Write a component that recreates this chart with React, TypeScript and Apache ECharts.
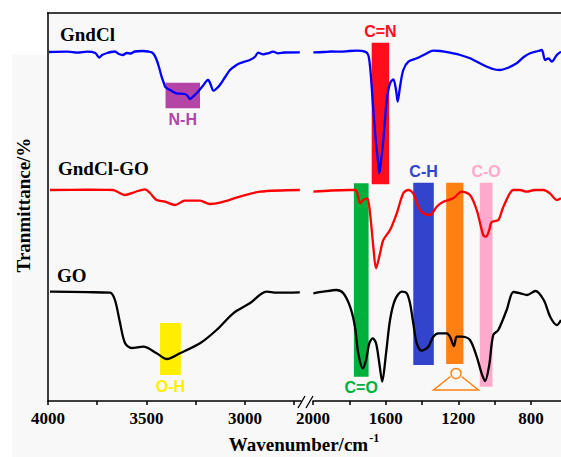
import React, { useEffect, useRef } from "react";
import * as echarts from "echarts";

// FTIR spectra: [wavenumber (cm-1), offset transmittance (a.u.)]
const gndclHigh: [number, number][] = [
  [3995, 349], [3900, 349.3], [3850, 348.3], [3800, 349.3], [3760, 348], [3740, 343.5], [3725, 346],
  [3700, 348], [3680, 349], [3660, 349.5], [3640, 347], [3620, 346], [3600, 348], [3580, 347.5],
  [3560, 349.5], [3520, 350], [3490, 349.5], [3474, 348.7], [3460, 346], [3448, 341], [3435, 333],
  [3423, 324.3], [3410, 317], [3403, 313.7], [3380, 311], [3347, 307.7], [3305, 307], [3290, 305],
  [3279, 302], [3260, 305], [3245, 307.7], [3228, 311.7], [3210, 316], [3195, 320], [3186, 321],
  [3175, 317], [3160, 310.3], [3152, 311], [3127, 316], [3100, 324], [3076, 331], [3050, 335],
  [3026, 337.7], [2975, 341], [2950, 344], [2932, 348.3], [2907, 346.7], [2882, 347.7], [2857, 349.3],
  [2831, 347.7], [2800, 348.5], [2721, 348.7],
];
const gndclLow: [number, number][] = [
  [1998, 348.7], [1943, 349], [1900, 349.5], [1851, 349.3], [1800, 350], [1759, 350.3], [1714, 349.3],
  [1696, 346], [1686, 334.3], [1677, 314.3], [1668, 291], [1653, 257.7], [1640, 236], [1635, 227.7],
  [1628, 236], [1613, 261], [1594, 301], [1576, 317.7], [1558, 321.7], [1543, 311], [1534, 299.3],
  [1521, 314.3], [1503, 331], [1475, 339.3], [1429, 342.7], [1380, 347], [1338, 350.3], [1300, 350],
  [1246, 348.3], [1190, 346], [1136, 342.7], [1063, 336], [1010, 332], [971, 331], [930, 333],
  [879, 337.7], [840, 344], [805, 347.7], [760, 350], [741, 351], [722, 341], [704, 342.7],
  [686, 339.3], [658, 346], [635, 349.3],
];
const gndclGoHigh: [number, number][] = [
  [3990, 211], [3800, 211.3], [3670, 211], [3645, 209], [3609, 206], [3558, 209], [3508, 211.7],
  [3482, 208], [3448, 201], [3406, 199.3], [3355, 196], [3305, 200.3], [3228, 200.3], [3178, 197],
  [3127, 198.3], [3026, 204.3], [2924, 209.3], [2721, 211],
];
const gndclGoLow: [number, number][] = [
  [1998, 209.3], [1900, 210.5], [1800, 211], [1765, 211], [1750, 203], [1741, 197.7], [1723, 201],
  [1701, 202.7], [1686, 187.7], [1668, 154.3], [1653, 132.7], [1631, 147.7], [1613, 161], [1576, 171],
  [1539, 187.7], [1503, 207.7], [1475, 211], [1448, 207.7], [1420, 194.3], [1393, 187.7], [1356, 186],
  [1319, 194.3], [1283, 199.3], [1228, 202.7], [1181, 209.3], [1136, 206], [1099, 191], [1063, 166],
  [1048, 164.3], [1030, 171], [1017, 179], [980, 181], [952, 194.3], [897, 211], [860, 211],
  [824, 209.3], [780, 211], [732, 211], [696, 207.7], [658, 201], [635, 202.7],
];
const goHigh: [number, number][] = [
  [3990, 109.3], [3800, 108.8], [3685, 108.3], [3660, 101], [3634, 78], [3609, 58], [3575, 53],
  [3516, 54.3], [3448, 47.7], [3397, 42], [3330, 47.7], [3228, 57.7], [3144, 71], [3059, 87.7],
  [2975, 97.7], [2890, 109.3], [2839, 108.3], [2721, 108.7],
];
const goLow: [number, number][] = [
  [1998, 107.7], [1943, 109.3], [1870, 111], [1833, 107.7], [1796, 94.3], [1769, 74.3], [1751, 47.7],
  [1726, 32.7], [1708, 41], [1690, 57.7], [1671, 62.7], [1653, 57.7], [1635, 37.7], [1619, 19.3],
  [1598, 47.7], [1576, 81], [1549, 101], [1512, 109.3], [1484, 107.7], [1466, 97.7], [1448, 77.7],
  [1429, 57.7], [1402, 50.3], [1365, 54.3], [1338, 64.3], [1310, 67.7], [1264, 67.7], [1246, 64.3],
  [1224, 55], [1209, 64.3], [1181, 64.3], [1136, 61], [1099, 44.3], [1072, 27.7], [1053, 20],
  [1030, 36], [1008, 66], [980, 71], [934, 91], [897, 109], [859, 107.7], [822, 106], [776, 110],
  [730, 101], [694, 84], [658, 76], [635, 81],
];

// Band annotations: [label, wnStart, wnEnd, yTop, yBottom, color, labelPosition]
type Band = [string, number, number, number, number, string, "top" | "bottom"];
const bandsHigh: Band[] = [
  ["N-H", 3403, 3228, 318.3, 292.7, "#b444a6", "bottom"],
  ["O-H", 3431, 3325, 78, 26, "#ffee00", "bottom"],
];
const bandsLow: Band[] = [
  ["C=N", 1677, 1581, 358.3, 216.7, "#ff0d1d", "top"],
  ["C=O", 1775, 1694, 217.7, 24.3, "#00b03c", "bottom"],
  ["C-H", 1448, 1335, 218.3, 36, "#3344cc", "top"],
  ["", 1267, 1172, 218.3, 37, "#ff8012", "top"],
  ["C-O", 1082, 1012, 218.3, 14.3, "#ffaacc", "top"],
];

const highTicks = [4000, 3750, 3500, 3250, 3000, 2750];
const highLabels = [4000, 3500, 3000];
const lowTicks = [2000, 1800, 1600, 1400, 1200, 1000, 800];
const lowLabels = [2000, 1600, 1200, 800];

const SERIF = "'Liberation Serif', 'Times New Roman', serif";
const SANS = "'Liberation Sans', Arial, sans-serif";

function bandData(bands: Band[]) {
  return bands.map(([label, x1, x2, y1, y2, color, pos]) => [
    {
      xAxis: x1,
      yAxis: y1,
      itemStyle: { color, opacity: 1 },
      label: {
        show: label !== "",
        formatter: label,
        position: pos,
        distance: 3,
        color,
        fontFamily: SANS,
        fontWeight: "bold",
        fontSize: 16,
      },
    },
    { xAxis: x2, yAxis: y2 },
  ]);
}

function xAxisCfg(grid: number, min: number, max: number, ticks: number[], labels: number[]) {
  return {
    gridIndex: grid,
    type: "value",
    inverse: true,
    min,
    max,
    axisLine: { show: true, onZero: false, lineStyle: { color: "#000", width: 1.5 } },
    axisTick: { show: true, customValues: ticks, length: 4, lineStyle: { color: "#000", width: 1.5 } },
    axisLabel: {
      customValues: labels,
      formatter: (v: number) => String(v),
      fontFamily: SERIF,
      fontWeight: "bold",
      fontSize: 17,
      color: "#000",
      margin: 9,
    },
    splitLine: { show: false },
  };
}

function yAxisCfg(grid: number, showLine: boolean) {
  return {
    gridIndex: grid,
    type: "value",
    min: 0,
    max: 388,
    axisLine: { show: showLine, lineStyle: { color: "#000", width: 1.5 } },
    axisTick: { show: false },
    axisLabel: { show: false },
    splitLine: { show: false },
  };
}

function lineSeries(data: [number, number][], grid: number, color: string) {
  return {
    type: "line",
    xAxisIndex: grid,
    yAxisIndex: grid,
    data,
    showSymbol: false,
    smooth: 0.3,
    lineStyle: { color, width: 2.3 },
    z: 3,
  };
}

export default function App() {
  const ref = useRef<HTMLDivElement>(null);
  useEffect(() => {
    if (!ref.current) return;
    const chart = echarts.init(ref.current, undefined, { renderer: "svg" });
    const orange = "#ff8012";
    chart.setOption({
      animation: false,
      backgroundColor: "#ffffff",
      grid: [
        { left: 48, top: 13, width: 253, height: 388 },
        { left: 313, top: 13, width: 248, height: 388 },
      ],
      xAxis: [
        xAxisCfg(0, 2715, 4000, highTicks, highLabels),
        xAxisCfg(1, 635, 2000, lowTicks, lowLabels),
      ],
      yAxis: [yAxisCfg(0, true), yAxisCfg(1, false)],
      series: [
        {
          type: "line",
          xAxisIndex: 0,
          yAxisIndex: 0,
          data: [],
          z: 1,
          markArea: { silent: true, data: bandData(bandsHigh) },
        },
        {
          type: "line",
          xAxisIndex: 1,
          yAxisIndex: 1,
          data: [],
          z: 1,
          markArea: { silent: true, data: bandData(bandsLow) },
        },
        lineSeries(gndclHigh, 0, "#0000ff"),
        lineSeries(gndclLow, 1, "#0000ff"),
        lineSeries(gndclGoHigh, 0, "#ff0000"),
        lineSeries(gndclGoLow, 1, "#ff0000"),
        lineSeries(goHigh, 0, "#000000"),
        lineSeries(goLow, 1, "#000000"),
      ],
      graphic: [
        { type: "rect", z: -10, silent: true, shape: { x: 12, y: 55, width: 549, height: 402 }, style: { fill: "#f8f8f8" } },
        { type: "rect", z: -10, silent: true, shape: { x: 47, y: 13, width: 514, height: 388 }, style: { fill: "#f8f8f8" } },
        { type: "line", z: 10, shape: { x1: 47, y1: 13, x2: 561, y2: 13 }, style: { stroke: "#000", lineWidth: 1.5 } },
        { type: "line", z: 10, shape: { x1: 298, y1: 408, x2: 305, y2: 396 }, style: { stroke: "#000", lineWidth: 1.3 } },
        { type: "line", z: 10, shape: { x1: 306, y1: 408, x2: 313, y2: 396 }, style: { stroke: "#000", lineWidth: 1.3 } },
        { type: "circle", z: 10, shape: { cx: 456, cy: 373.5, r: 5 }, style: { fill: "none", stroke: orange, lineWidth: 1.5 } },
        {
          type: "polyline",
          z: 10,
          shape: { points: [[450.5, 376.5], [433.5, 390], [478.5, 390], [461.5, 376.5]] },
          style: { fill: "none", stroke: orange, lineWidth: 1.5 },
        },
        { type: "text", z: 10, x: 60, y: 34, style: { text: "GndCl", font: `bold 19px ${SERIF}`, fill: "#000", verticalAlign: "middle" } },
        { type: "text", z: 10, x: 58, y: 168, style: { text: "GndCl-GO", font: `bold 19px ${SERIF}`, fill: "#000", verticalAlign: "middle" } },
        { type: "text", z: 10, x: 57, y: 275, style: { text: "GO", font: `bold 19px ${SERIF}`, fill: "#000", verticalAlign: "middle" } },
        {
          type: "text",
          z: 10,
          x: 23,
          y: 205,
          rotation: Math.PI / 2,
          style: { text: "Tranmittance/%", font: `bold 19px ${SERIF}`, fill: "#000", align: "center", verticalAlign: "middle" },
        },
        {
          type: "text",
          z: 10,
          x: 304,
          y: 444,
          style: {
            text: "{a|Wavenumber/cm}{b|-1}",
            align: "center",
            verticalAlign: "middle",
            rich: {
              a: { fontFamily: SERIF, fontWeight: "bold", fontSize: 19, fill: "#000", color: "#000" },
              b: { fontFamily: SERIF, fontWeight: "bold", fontSize: 12, fill: "#000", color: "#000", padding: [0, 0, 12, 1] },
            },
          },
        },
      ],
    });
    return () => chart.dispose();
  }, []);
  return (
    <div
      ref={ref}
      style={{ position: "fixed", left: 0, top: 0, width: 561, height: 457 }}
    />
  );
}
